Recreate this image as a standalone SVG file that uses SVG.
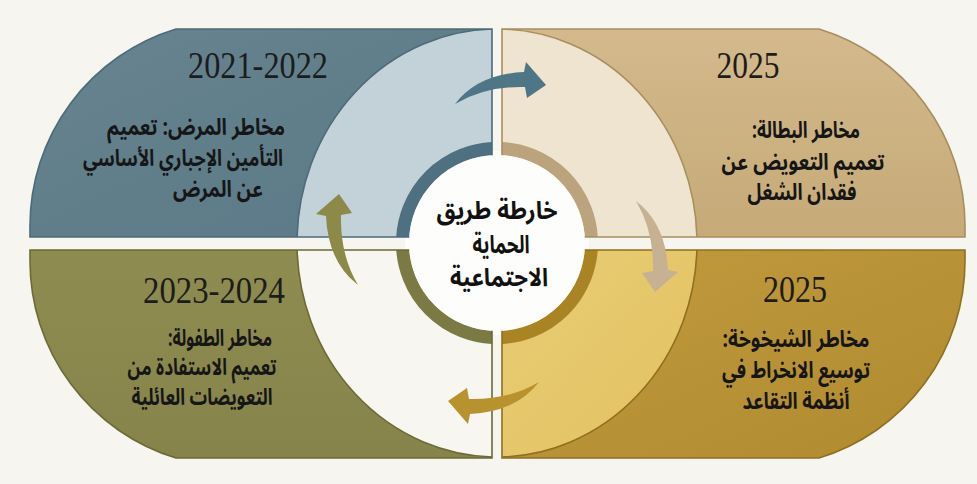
<svg xmlns="http://www.w3.org/2000/svg" xmlns:xlink="http://www.w3.org/1999/xlink" width="977" height="484" viewBox="0 0 977 484">
  <defs>
    <style>
      .year { font-family: "Liberation Serif", "Times New Roman", serif; font-size: 37px; fill: #1c1c1c; text-anchor: middle; }
      .ar { font-family: "Noto Sans Arabic", "Noto Naskh Arabic", "DejaVu Sans", sans-serif; font-size: 23px; font-weight: 700; fill: #161616; text-anchor: middle; direction: rtl; }
      .title { font-family: "Noto Sans Arabic", "Noto Naskh Arabic", "DejaVu Sans", sans-serif; font-size: 25px; font-weight: 700; fill: #111; text-anchor: middle; direction: rtl; }
      .ring { fill: none; stroke-width: 13; }
      .edge { fill: none; stroke-width: 1.6; }
    </style>
    <!-- quarter panel outlines -->
    <path id="shape-tl" d="M492 29 H176 A206 206 0 0 0 30 226 V237 H492 Z"/>
    <path id="shape-tr" d="M502 29 H819 A206 206 0 0 1 965 226 V237 H502 Z"/>
    <path id="shape-bl" d="M492 250 H30 V261 A206 206 0 0 0 176 458 H492 Z"/>
    <path id="shape-br" d="M502 250 H965 V261 A206 206 0 0 1 819 458 H502 Z"/>
    <clipPath id="clip-tl"><use xlink:href="#shape-tl"/></clipPath>
    <clipPath id="clip-tr"><use xlink:href="#shape-tr"/></clipPath>
    <clipPath id="clip-bl"><use xlink:href="#shape-bl"/></clipPath>
    <clipPath id="clip-br"><use xlink:href="#shape-br"/></clipPath>
    <linearGradient id="g-tl" x1="0" y1="0" x2="1" y2="1">
      <stop offset="0" stop-color="#67848f"/>
      <stop offset="1" stop-color="#5a7886"/>
    </linearGradient>
    <linearGradient id="g-tr" x1="0" y1="0" x2="0" y2="1">
      <stop offset="0" stop-color="#d3b98c"/>
      <stop offset="1" stop-color="#c6aa78"/>
    </linearGradient>
    <linearGradient id="g-bl" x1="0" y1="0" x2="0" y2="1">
      <stop offset="0" stop-color="#8f8c52"/>
      <stop offset="1" stop-color="#86844a"/>
    </linearGradient>
    <linearGradient id="g-br" x1="0" y1="0" x2="1" y2="1">
      <stop offset="0" stop-color="#c19b3e"/>
      <stop offset="1" stop-color="#b08a2e"/>
    </linearGradient>
    <linearGradient id="g-br-light" x1="0" y1="0" x2="1" y2="1">
      <stop offset="0" stop-color="#f0d98c"/>
      <stop offset="1" stop-color="#e2c160"/>
    </linearGradient>
    <!-- tapered curved arrow, drawn at the top and turned about the centre for the others -->
    <path id="arrow" d="M455 104 Q478 74 524 72 L526 62 L546 85 L527 98 L525 87 Q485 86 455 104 Z"/>
  </defs>

  <rect width="977" height="484" fill="#f6f5ef"/>
  <circle cx="497" cy="243" r="92" fill="#fdfdfb"/>

  <!-- 2021-2022 : sickness -->
  <g id="node-tl">
    <g clip-path="url(#clip-tl)">
      <use xlink:href="#shape-tl" fill="url(#g-tl)"/>
      <ellipse cx="497" cy="243" rx="200" ry="214" fill="#c3d1d8" stroke="#4d6b79" stroke-width="1.6"/>
      <circle class="ring" cx="497" cy="243" r="94.5" stroke="#4f7080"/>
    </g>
    <use xlink:href="#shape-tl" class="edge" stroke="#4d6a78"/>
    <text class="year" x="258" y="78" textLength="140" lengthAdjust="spacingAndGlyphs">2021-2022</text>
    <text class="ar" x="196" y="135" textLength="178" lengthAdjust="spacingAndGlyphs">مخاطر المرض: تعميم</text>
    <text class="ar" x="183" y="166" textLength="200" lengthAdjust="spacingAndGlyphs">التأمين الإجباري الأساسي</text>
    <text class="ar" x="218" y="197" textLength="90" lengthAdjust="spacingAndGlyphs">عن المرض</text>
  </g>

  <!-- 2025 : unemployment -->
  <g id="node-tr">
    <g clip-path="url(#clip-tr)">
      <use xlink:href="#shape-tr" fill="url(#g-tr)"/>
      <ellipse cx="497" cy="243" rx="200" ry="214" fill="#eee4cf" stroke="#a98e60" stroke-width="1.6"/>
      <circle class="ring" cx="497" cy="243" r="94.5" stroke="#bba37e"/>
    </g>
    <use xlink:href="#shape-tr" class="edge" stroke="#a88d5f"/>
    <text class="year" x="748" y="78" textLength="63" lengthAdjust="spacingAndGlyphs">2025</text>
    <text class="ar" x="806" y="138" textLength="108" lengthAdjust="spacingAndGlyphs">مخاطر البطالة:</text>
    <text class="ar" x="803" y="170" textLength="163" lengthAdjust="spacingAndGlyphs">تعميم التعويض عن</text>
    <text class="ar" x="802" y="200" textLength="109" lengthAdjust="spacingAndGlyphs">فقدان الشغل</text>
  </g>

  <!-- 2023-2024 : childhood -->
  <g id="node-bl">
    <g clip-path="url(#clip-bl)">
      <use xlink:href="#shape-bl" fill="url(#g-bl)"/>
      <ellipse cx="497" cy="243" rx="200" ry="214" fill="#f7f6f1" stroke="#6c6a35" stroke-width="1.6"/>
      <circle class="ring" cx="497" cy="243" r="94.5" stroke="#7b7a45"/>
    </g>
    <use xlink:href="#shape-bl" class="edge" stroke="#6c6a35"/>
    <text class="year" x="214" y="303" textLength="142" lengthAdjust="spacingAndGlyphs">2023-2024</text>
    <text class="ar" x="220" y="346" textLength="104" lengthAdjust="spacingAndGlyphs">مخاطر الطفولة:</text>
    <text class="ar" x="202" y="375" textLength="149" lengthAdjust="spacingAndGlyphs">تعميم الاستفادة من</text>
    <text class="ar" x="202" y="405" textLength="141" lengthAdjust="spacingAndGlyphs">التعويضات العائلية</text>
  </g>

  <!-- 2025 : old age -->
  <g id="node-br">
    <g clip-path="url(#clip-br)">
      <use xlink:href="#shape-br" fill="url(#g-br)"/>
      <ellipse cx="497" cy="243" rx="200" ry="214" fill="url(#g-br-light)" stroke="#8f6f22" stroke-width="1.6"/>
      <circle class="ring" cx="497" cy="243" r="94.5" stroke="#a98424"/>
    </g>
    <use xlink:href="#shape-br" class="edge" stroke="#8f6f22"/>
    <text class="year" x="795" y="302" textLength="64" lengthAdjust="spacingAndGlyphs">2025</text>
    <text class="ar" x="796" y="347" textLength="147" lengthAdjust="spacingAndGlyphs">مخاطر الشيخوخة:</text>
    <text class="ar" x="796" y="378" textLength="148" lengthAdjust="spacingAndGlyphs">توسيع الانخراط في</text>
    <text class="ar" x="796" y="409" textLength="107" lengthAdjust="spacingAndGlyphs">أنظمة التقاعد</text>
  </g>

  <!-- white hub covering the inner corners -->
  <circle cx="497" cy="243" r="88" fill="#fdfdfb"/>

  <g id="node-center">
    <text class="title" x="497" y="219" textLength="121" lengthAdjust="spacingAndGlyphs">خارطة طريق</text>
    <text class="title" x="501" y="253" textLength="57" lengthAdjust="spacingAndGlyphs">الحماية</text>
    <text class="title" x="499" y="286" textLength="98" lengthAdjust="spacingAndGlyphs">الاجتماعية</text>
  </g>

  <!-- cycle arrows -->
  <g id="connectors">
    <use xlink:href="#arrow" fill="#4e7686"/>
    <use xlink:href="#arrow" fill="#c6b292" transform="rotate(90 497 243)"/>
    <use xlink:href="#arrow" fill="#b8922f" transform="rotate(180 497 243)"/>
    <use xlink:href="#arrow" fill="#8c8949" transform="rotate(270 497 243)"/>
  </g>
</svg>
